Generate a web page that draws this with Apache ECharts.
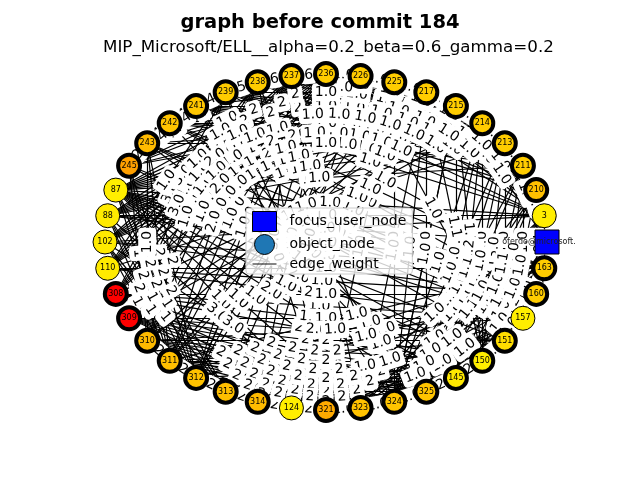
<!DOCTYPE html>
<html><head><meta charset="utf-8">
<script src="https://cdn.jsdelivr.net/npm/echarts@6/dist/echarts.min.js"></script>
<style>html,body{margin:0;padding:0;background:#fff}#c{width:640px;height:480px}</style>
</head><body><div id="c"></div><script>
const titleText = 'graph before commit 184';
const subtitleText = 'MIP_Microsoft/ELL__alpha=0.2_beta=0.6_gamma=0.2';
const focusUser = 'oferdo@microsoft.';
// ring order, counter-clockwise from the right
const ringNodes = [focusUser,'3','210','211','213','214','215','217','225','226','236','237','238','239','241','242','243','245','87','88','102','110','308','309','310','311','312','313','314','124','321','323','324','325','145','150','151','157','160','163'];
// object nodes drawn with a thin outline
const lightNodes = ['3','87','88','102','110','124','157'];
const legendNames = ['focus_user_node','object_node','edge_weight'];

const ringEdges = [
 ['236','237','6'],['237','238','6'],['238','239','5'],['239','241','4'],['241','242','4'],['242','243','4'],['243','245','2'],
 ['236','226','1.0'],['226','225','1.0'],['225','217','1.0'],['217','215','1.0'],['215','214','1.0'],['214','213','1.0'],['213','211','1.0'],['211','210','1.0'],
 ['310','311','2'],['311','312','2'],['312','313','2'],['313','314','2'],['314','124','2'],['124','321','2'],['321','323','1.0'],['323','324','1.0'],['324','325','1.0'],['325','145','2'],['145','150','2'],['150','151','1.0'],['151','157','1.0'],['160','163','1.0']
];
const topChords = [
 ['245','241','4'],['245','239','4'],['243','238','4'],['243','239','4'],
 ['245','236','1.0'],['245','226','2'],['243','225','2'],['242','217','2'],
 ['241','213','1.0'],['239','211','1.0'],['238','210','1.0'],['241','211','1.0'],['242','213','1.0'],['239','214','1.0'],['237','214','1.0'],['236','213','1.0'],['237','213','1.0'],['226','211','1.0'],['225','210','1.0'],['217','3','1.0'],['236','211','1.0'],['238','215','1.0'],['241','215','1.0'],['242','214','1.0']
];
const topChords2 = [
 ['236','210','1.0'],['236','3','1.0'],['237','211','1.0'],['237','210','1.0'],['238','213','1.0'],['238','211','1.0'],['239','213','1.0'],['239','210','1.0'],['241','214','1.0'],['241','210','1.0'],
 ['242','215','1.0'],['242','211','1.0'],['243','214','1.0'],['243','213','1.0'],['245','217','1.0'],['245','215','2'],['226','3','1.0'],['225','3','1.0'],['226','210','1.0'],['217','210','1.0'],
 ['215','3','1.0'],['236','215','1.0'],['237','217','1.0'],['238','217','1.0'],['239','217','1.0'],['241','225','2'],['242','225','2'],['243','226','2'],['226','214','1.0'],['225','213','1.0']
];
const rightChords = [
 ['214','150','1.0'],['213','151','1.0'],['215','145','1.0'],['211','157','1.0'],['210','160','4.0'],['215','150','1.1'],['214','145','1.2'],['217','325','1.0'],['225','324','1.0'],['213','150','13.0'],['3','163','8'],['217','150','1.1'],['226','151','1.0'],['3','323','1.0'],['210','324','1.0'],['211','325','1.1'],['3','325','1.0'],['210','323','1.1'],['211','151','1.0'],['213','145','1.0'],
 [focusUser,'213','1.0'],[focusUser,'211','1.0'],[focusUser,'215','1.0'],[focusUser,'151','1.0'],[focusUser,'150','2'],[focusUser,'145','1.0']
];
const rightChords2 = [
 ['163','321','1.0'],['163','323','1.0'],['160','321','1.0'],['160','324','1.0'],['157','323','1.0'],['157','321','1.0'],['151','321','1.0'],['151','314','2'],['163','313','1.0'],['160','313','1.0'],
 ['163','312','1.0'],['150','313','2'],['145','313','2'],['145','314','2'],['3','324','1.1'],['3','321','1.0'],['210','325','1.0'],['211','324','1.0'],['213','325','1.1'],['214','325','1.0'],
 ['215','324','1.0'],['217','324','1.0'],['213','324','1.0'],['214','324','1.0'],['3','145','1.0'],['210','145','1.0'],['211','150','1.1'],['3','150','1.0'],['210','151','1.0'],['163','145','1.0'],['160','150','1.0']
];
const bottomChords = [
 ['312','325','2'],['311','324','2'],['313','323','2'],['310','145','2'],['311','145','2'],['312','150','2'],['313','151','2'],['310','150','2'],['311','150','2'],['309','145','2'],['313','325','2'],['314','324','2'],['312','324','2'],['311','325','2'],['310','325','2'],
 ['157','314','1.0'],['151','313','1.0'],['160','312','1.0'],['163','311','1.0'],['150','314','2']
];
const bottomChords2 = [
 ['308','321','2'],['308','323','2'],['309','321','2'],['309','323','2'],['310','321','2'],['310','323','2'],['310','324','2'],['311','321','2'],['311','323','2'],['312','321','2'],
 ['312','323','2'],['313','324','2'],['309','324','2'],['308','324','2'],['309','325','2'],['308','325','2'],['313','145','2'],['314','145','2'],['314','150','2'],['314','325','2'],
 ['312','145','2'],['313','150','2'],['310','151','2'],['311','151','2'],['309','150','2'],['308','150','2']
];
const leftChords = [
 ['87','321','1.0'],['87','323','1.0'],['88','321','3.0'],['102','323','3.0'],['87','324','1.0'],['87','325','2.0'],['87','145','1.0'],['87','150','2.0'],['87','151','1.0'],['87','157','1.0'],
 ['102','311','1'],['102','312','1'],['88','311','2'],['88','312','1'],['88','313','1'],['102','313','1'],['87','312','2'],['87','313','2'],['87','311','2'],['245','311','2'],['245','312','2'],['243','311','2'],['243','312','2'],['245','310','1'],['243','310','1.0'],
 ['88','236','1'],['88','226','1'],['88','225','1'],['88','217','2'],['88','215','1'],['88','214','1'],['88','213','1'],
 ['308','239','3.0'],['309','238','1.0'],['308','238','1.0'],['309','237','1.0'],['310','236','2.0'],['308','237','1.0'],['110','238','3.0'],['110','239','1.0'],['110','237','1.0'],['102','237','1.0'],['102','236','2.0']
];
const leftChords2 = [
 ['87','236','1.0'],['87','226','1.0'],['87','225','1.0'],['87','217','2'],['87','215','1.0'],['87','214','1.0'],['87','213','1.0'],['87','211','1.0'],
 ['102','226','1.0'],['102','225','1'],['102','217','1'],['102','215','1'],['110','236','1.0'],['110','226','1'],['110','225','1'],['308','236','2.0'],['308','226','1.0'],
 ['309','236','1.0'],['309','239','3.0'],['310','238','1.0'],['310','239','1.0'],['310','237','1.0'],['311','237','1.0'],['311','238','2.0'],['311','236','1.0'],['312','236','1.0'],['312','237','1.0']
];
const centerChords = [
 ['245','150','1.0'],['243','151','1.0'],['242','157','1.0'],['241','160','1.0'],['239','163','1.0'],['87','3','1.0'],['88',focusUser,'1.0'],['102','163','2.0'],['110','160','1.0'],['308','157','1.0'],['238','324','1.0'],['237','323','1.0'],['226','313','1.0'],['225','312','1.0'],['217','311','3.0'],['215','310','1.0'],['214','309','2.0'],['236','314','1.0'],['239','321','3.0'],['241','325','1.0']
];
const centerChords2 = [
 ['245','157','1.0'],['243','157','1.0'],['243','160','1.0'],['242','160','1.0'],['242','163','1.0'],['241','163','1.0'],['241','3','1.0'],['239','3','1.0'],['238','3','1.0'],['87','163','1.0'],
 ['87','160','1.0'],['88','163','1.0'],['88','3','1.0'],['102','3','1.0'],['102','160','1.0'],['110','163','1.0'],['110','157','2.0'],['308','160','1.0'],['308','151','1.0'],['309','157','1.0'],
 ['309','151','2.0'],['310','157','1.0'],['226','312','1.0'],['225','311','1.0'],['217','310','1.0'],['215','309','1.0'],['214','308','1.0'],['213','110','1.0'],['236','313','1.0'],['237','314','3.0'],
 ['238','321','1.0'],['239','323','1.0'],['241','324','2.0'],['242','325','1.0'],['243','145','1.0'],['236','312','1.0'],['226','314','1.0'],['225','321','1.0'],['217','323','1.0'],['215','324','1.0']
];

// styles
const nodeFill = {
 [focusUser]:'#0000ff','3':'#ffee00','210':'#ffc000','211':'#ffcc00','213':'#ffcc00','214':'#ffcc00','215':'#ffcc00','217':'#ffcc00','225':'#ffcc00','226':'#ffcc00','236':'#ffcc00','237':'#ffcc00','238':'#ffcc00','239':'#ffcc00','241':'#ffc600','242':'#ffc400','243':'#ffbb00','245':'#ffa000',
 '87':'#ffee00','88':'#ffea00','102':'#ffea00','110':'#ffea00','308':'#ff0000','309':'#ff0000','310':'#ffbb00','311':'#ffbf00','312':'#ffc200','313':'#ffbf00','314':'#ffbb00','124':'#ffee00','321':'#ffaa00','323':'#ffc200','324':'#ffc400','325':'#ffc400','145':'#ffe800','150':'#ffee00','151':'#ffdd00','157':'#ffee00','160':'#ffcc00','163':'#ffcc00'
};
const rx = 221, ry = 168;
const step = 2 * Math.PI / ringNodes.length;
function pos(i){ return [Math.cos(i*step)*rx, -Math.sin(i*step)*ry]; }

const allEdges = [].concat(ringEdges, topChords, topChords2, rightChords, rightChords2, bottomChords, bottomChords2, leftChords, leftChords2, centerChords, centerChords2);
const box = {left:105, top:74, width:442, height:336};

const baseNodes = ringNodes.map((n,i)=>{ const p=pos(i); return {name:n, x:p[0], y:p[1]}; });

const nodeData = ringNodes.map((n,i)=>{
  const p = pos(i);
  if (n === focusUser) {
    return {name:n, x:p[0], y:p[1], category:0, symbol:'rect', symbolSize:24,
      itemStyle:{color:nodeFill[n], borderColor:'#000', borderWidth:1},
      label:{show:true, position:'inside', offset:[-8,0], fontSize:8, color:'#222'}};
  }
  const light = lightNodes.indexOf(n) >= 0;
  return {name:n, x:p[0], y:p[1], category:1, symbol:'circle',
    symbolSize: light ? 24 : 22,
    itemStyle:{color:nodeFill[n], borderColor:'#000', borderWidth: light ? 1 : 4}};
});

const edgeData = allEdges.map(e=>({source:e[0], target:e[1], w:e[2]}));

const chart = echarts.init(document.getElementById('c'));
chart.setOption({
  animation:false,
  backgroundColor:'#fff',
  textStyle:{fontFamily:'DejaVu Sans'},
  title:[
    {text:titleText, left:'center', top:8, textStyle:{fontSize:19.5, fontWeight:'bold', color:'#000', fontFamily:'DejaVu Sans'}},
    {text:subtitleText, left:98, top:34, textStyle:{fontSize:16.7, fontWeight:'normal', color:'#000', fontFamily:'DejaVu Sans'}}
  ],
  legend:{
    orient:'vertical', left:246, top:208, padding:[3,6,3,6], itemWidth:24, itemHeight:20, itemGap:2,
    backgroundColor:'rgba(255,255,255,0.8)', borderColor:'#cccccc', borderWidth:1, borderRadius:3,
    textStyle:{fontSize:14, color:'#000', fontFamily:'DejaVu Sans', padding:[0,0,0,8]},
    data:[
      {name:legendNames[0], icon:'rect', itemStyle:{color:'#0000ff', borderColor:'#000', borderWidth:1}},
      {name:legendNames[1], icon:'circle', itemStyle:{color:'#1f77b4', borderColor:'#000', borderWidth:1}},
      {name:legendNames[2], icon:'path://M0,0H30V1.2H0Z', itemStyle:{color:'#000'}}
    ]
  },
  series:[
    Object.assign({
      type:'graph', layout:'none', roam:false, z:2, silent:true,
      data: baseNodes, symbolSize:1, itemStyle:{opacity:0},
      label:{show:false},
      edges: edgeData,
      lineStyle:{color:'#000', width:1.2, opacity:1, curveness:0},
      edgeLabel:{show:true, position:'middle', distance:0, verticalAlign:'middle', formatter:p=>p.data.w,
        fontSize:14, color:'#000', fontFamily:'DejaVu Sans', backgroundColor:'#fff', padding:[2,3], borderRadius:4}
    }, box),
    Object.assign({
      type:'graph', layout:'none', roam:false, z:3,
      categories:[{name:legendNames[0]},{name:legendNames[1]},{name:legendNames[2]}],
      data: nodeData, edges: [],
      label:{show:true, position:'inside', fontSize:8, color:'#000', fontFamily:'DejaVu Sans'}
    }, box)
  ]
});
</script></body></html>
